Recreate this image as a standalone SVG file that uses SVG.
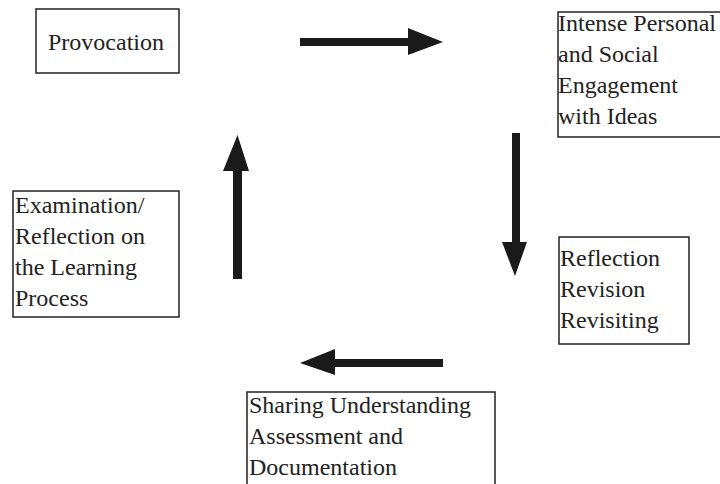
<svg xmlns="http://www.w3.org/2000/svg" width="720" height="484" viewBox="0 0 720 484">
<style>
.box{fill:#fff;stroke:#222;stroke-width:1.5}
.t{font-family:"Liberation Serif","Times New Roman",serif;font-size:24px;fill:#222}
.arr{fill:#1a1a1a}
</style>
<rect width="720" height="484" fill="#fff"/>
<g id="provocation">
<rect class="box" x="36" y="9" width="143" height="64"/>
<text class="t" x="48" y="50">Provocation</text>
</g>
<g id="engagement">
<rect class="box" x="558" y="12" width="170" height="125"/>
<text class="t" x="558" y="31">Intense Personal</text>
<text class="t" x="558" y="62">and Social</text>
<text class="t" x="558" y="93">Engagement</text>
<text class="t" x="558" y="124">with Ideas</text>
</g>
<g id="reflection">
<rect class="box" x="559" y="237" width="130" height="107"/>
<text class="t" x="560" y="266">Reflection</text>
<text class="t" x="560" y="297">Revision</text>
<text class="t" x="560" y="328">Revisiting</text>
</g>
<g id="sharing">
<rect class="box" x="247" y="392" width="248" height="100"/>
<text class="t" x="249" y="413">Sharing Understanding</text>
<text class="t" x="249" y="444">Assessment and</text>
<text class="t" x="249" y="475">Documentation</text>
</g>
<g id="examination">
<rect class="box" x="13" y="191" width="166" height="126"/>
<text class="t" x="15" y="213">Examination/</text>
<text class="t" x="15" y="244">Reflection on</text>
<text class="t" x="15" y="275">the Learning</text>
<text class="t" x="15" y="306">Process</text>
</g>
<g id="connectors">
<polygon class="arr" points="300,38 408,38 408,28 443,42 408,55 408,46 300,46"/>
<polygon class="arr" points="512,133 520,133 520,242 527,242 515,276 502,242 512,242"/>
<polygon class="arr" points="443,359 443,367 335,367 335,375 300,363 335,349 335,359"/>
<polygon class="arr" points="233,279 242,279 242,171 249,171 237.5,135 223,171 233,171"/>
</g>
</svg>
